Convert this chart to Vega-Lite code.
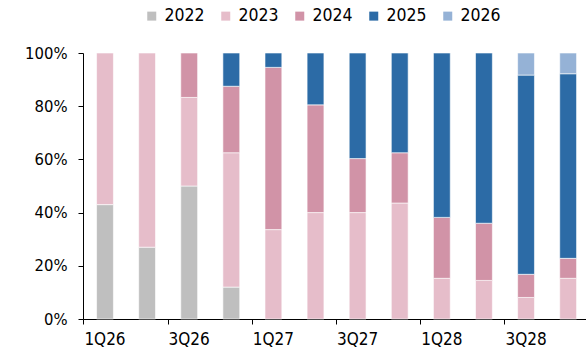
{
  "$schema": "https://vega.github.io/schema/vega-lite/v6.json",
  "width": 503,
  "height": 266,
  "autosize": {"type": "none"},
  "padding": {"left": 83, "top": 53, "right": 0, "bottom": 41},
  "config": {
    "view": {"stroke": null},
    "font": "Liberation Sans Narrow, DejaVu Sans Condensed, sans-serif"
  },
  "data": {
    "values": [
      {"quarter": "1Q26", "year": "2022", "share": 43},
      {"quarter": "1Q26", "year": "2023", "share": 57},
      {"quarter": "2Q26", "year": "2022", "share": 27},
      {"quarter": "2Q26", "year": "2023", "share": 73},
      {"quarter": "3Q26", "year": "2022", "share": 50},
      {"quarter": "3Q26", "year": "2023", "share": 33.3},
      {"quarter": "3Q26", "year": "2024", "share": 16.7},
      {"quarter": "4Q26", "year": "2022", "share": 12},
      {"quarter": "4Q26", "year": "2023", "share": 50.5},
      {"quarter": "4Q26", "year": "2024", "share": 25},
      {"quarter": "4Q26", "year": "2025", "share": 12.5},
      {"quarter": "1Q27", "year": "2023", "share": 33.6},
      {"quarter": "1Q27", "year": "2024", "share": 61},
      {"quarter": "1Q27", "year": "2025", "share": 5.4},
      {"quarter": "2Q27", "year": "2023", "share": 40},
      {"quarter": "2Q27", "year": "2024", "share": 40.5},
      {"quarter": "2Q27", "year": "2025", "share": 19.5},
      {"quarter": "3Q27", "year": "2023", "share": 40},
      {"quarter": "3Q27", "year": "2024", "share": 20.3},
      {"quarter": "3Q27", "year": "2025", "share": 39.7},
      {"quarter": "4Q27", "year": "2023", "share": 43.6},
      {"quarter": "4Q27", "year": "2024", "share": 18.9},
      {"quarter": "4Q27", "year": "2025", "share": 37.5},
      {"quarter": "1Q28", "year": "2023", "share": 15.3},
      {"quarter": "1Q28", "year": "2024", "share": 22.9},
      {"quarter": "1Q28", "year": "2025", "share": 61.8},
      {"quarter": "2Q28", "year": "2023", "share": 14.5},
      {"quarter": "2Q28", "year": "2024", "share": 21.5},
      {"quarter": "2Q28", "year": "2025", "share": 64},
      {"quarter": "3Q28", "year": "2023", "share": 8.1},
      {"quarter": "3Q28", "year": "2024", "share": 8.7},
      {"quarter": "3Q28", "year": "2025", "share": 74.9},
      {"quarter": "3Q28", "year": "2026", "share": 8.3},
      {"quarter": "4Q28", "year": "2023", "share": 15.3},
      {"quarter": "4Q28", "year": "2024", "share": 7.5},
      {"quarter": "4Q28", "year": "2025", "share": 69.4},
      {"quarter": "4Q28", "year": "2026", "share": 7.8}
    ]
  },
  "mark": {"type": "bar", "stroke": "white", "strokeWidth": 0.6},
  "encoding": {
    "x": {
      "field": "quarter",
      "type": "ordinal",
      "sort": ["1Q26", "2Q26", "3Q26", "4Q26", "1Q27", "2Q27", "3Q27", "4Q27", "1Q28", "2Q28", "3Q28", "4Q28"],
      "scale": {"paddingInner": 0.6, "paddingOuter": 0.273, "align": 0.59},
      "axis": {
        "title": null,
        "values": ["1Q26", "3Q26", "1Q27", "3Q27", "1Q28", "3Q28"],
        "bandPosition": -0.75,
        "tickExtra": false,
        "labelAngle": 0,
        "grid": false,
        "domainColor": "black",
        "tickColor": "black",
        "tickSize": 5,
        "labelFontSize": 17,
        "labelColor": "black",
        "labelPadding": 7
      }
    },
    "y": {
      "field": "share",
      "type": "quantitative",
      "stack": "normalize",
      "scale": {"domain": [0, 1]},
      "axis": {
        "title": null,
        "format": ".0%",
        "values": [0, 0.2, 0.4, 0.6, 0.8, 1],
        "grid": false,
        "domainColor": "black",
        "tickColor": "black",
        "tickSize": 5,
        "labelPadding": 11,
        "labelFontSize": 16.5,
        "labelColor": "black"
      }
    },
    "order": {"field": "year", "type": "ordinal", "sort": "ascending"},
    "color": {
      "field": "year",
      "type": "nominal",
      "scale": {
        "domain": ["2022", "2023", "2024", "2025", "2026"],
        "range": ["#BFBFBF", "#E6BDCA", "#D193A7", "#2C6BA6", "#95B2D6"]
      },
      "legend": {
        "title": null,
        "orient": "none",
        "direction": "horizontal",
        "legendX": 60,
        "legendY": -46,
        "symbolType": "square",
        "symbolSize": 81,
        "symbolStrokeWidth": 0,
        "labelFontSize": 17.5,
        "labelColor": "black",
        "labelOffset": 4,
        "columnPadding": 12
      }
    }
  }
}
